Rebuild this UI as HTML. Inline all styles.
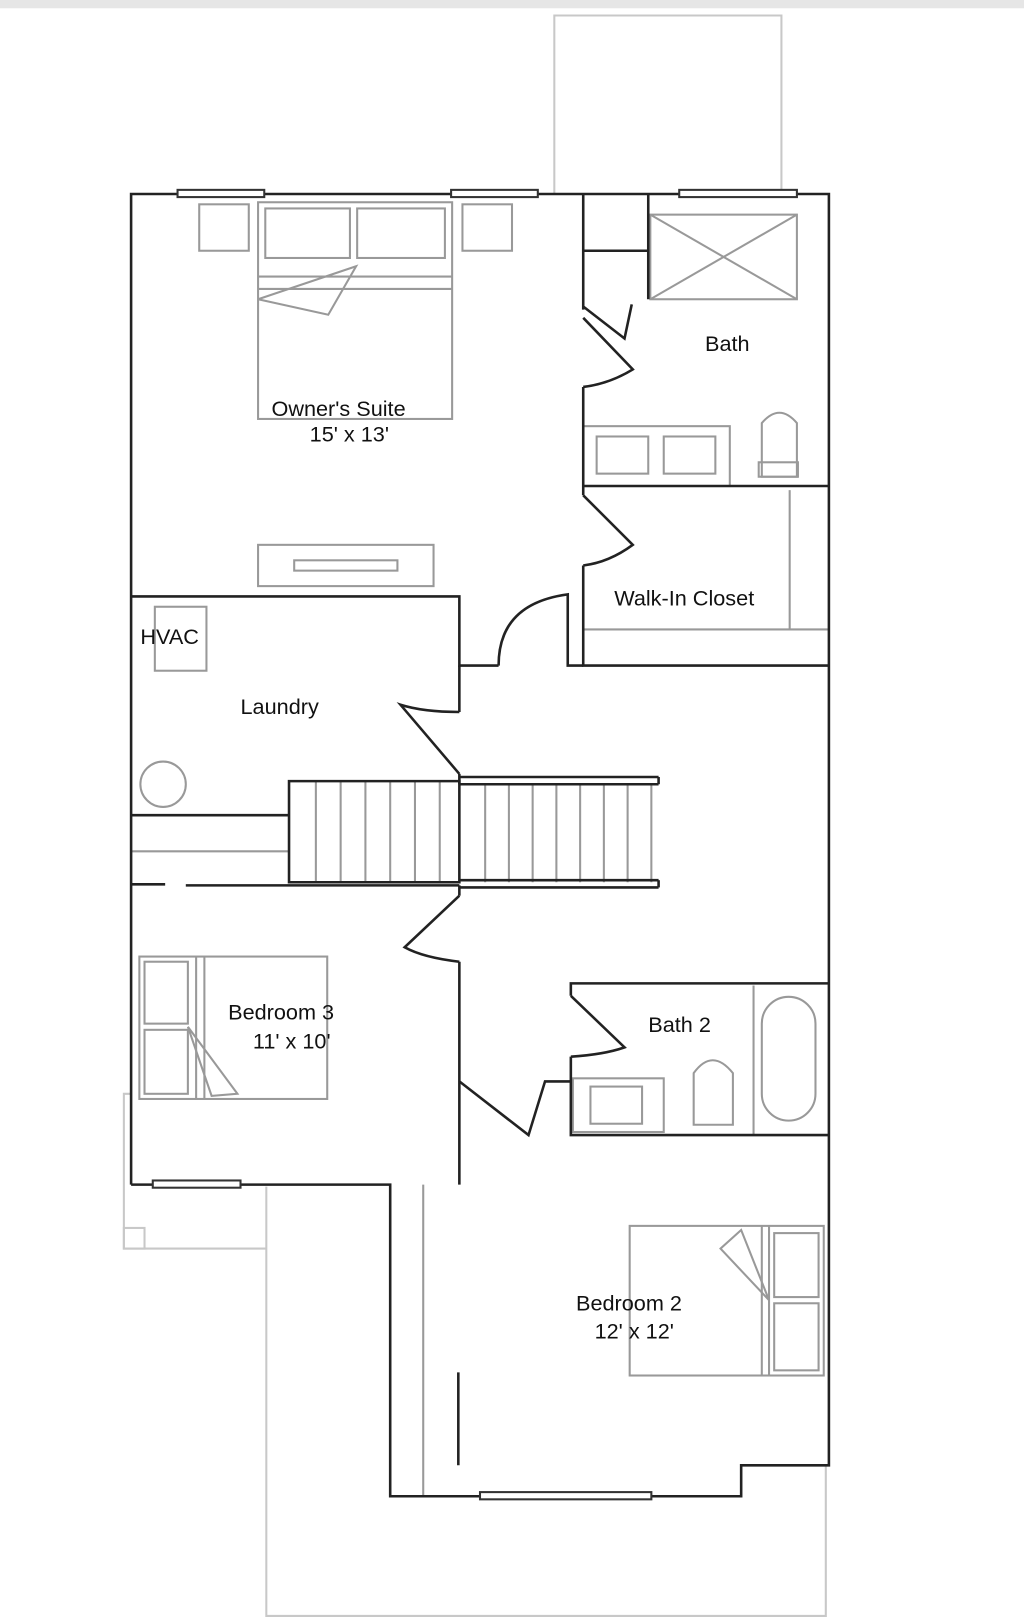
<!DOCTYPE html>
<html><head><meta charset="utf-8"><style>
html,body{margin:0;padding:0;background:#fff;width:1024px;height:1618px;overflow:hidden}
svg{display:block}
text{font-family:"Liberation Sans",sans-serif;font-size:21px;fill:#111}
</style></head><body>
<svg width="1024" height="1618" viewBox="0 0 992 1568" preserveAspectRatio="none" xmlns="http://www.w3.org/2000/svg">
<rect x="0" y="0" width="992" height="8" fill="#e6e6e6"/>
<g fill="none" stroke="#c8c8c8" stroke-width="2">
<polyline points="537,188 537,15 757,15 757,188"/>
<polyline points="258,1150 258,1566 800,1566 800,1420"/>
<polyline points="127,1060 120,1060 120,1210 258,1210"/>
<rect x="120" y="1190" width="20" height="20"/>
</g>
<g fill="none" stroke="#999" stroke-width="2">
<rect x="193" y="198" width="48" height="45"/><rect x="448" y="198" width="48" height="45"/>
<rect x="250" y="196" width="188" height="210"/>
<rect x="257" y="202" width="82" height="48"/><rect x="346" y="202" width="85" height="48"/>
<line x1="250" y1="268" x2="438" y2="268"/><line x1="250" y1="280" x2="438" y2="280"/>
<polyline points="250,290 345,258 318,305 250,290"/>
<rect x="250" y="528" width="170" height="40"/><rect x="285" y="543" width="100" height="10"/>
<rect x="630" y="208" width="142" height="82"/><line x1="630" y1="208" x2="772" y2="290"/><line x1="772" y1="208" x2="630" y2="290"/>
<rect x="565" y="413" width="142" height="58"/><rect x="578" y="423" width="50" height="36"/><rect x="643" y="423" width="50" height="36"/>
<path d="M738,462 L738,410 Q755,390 772,410 L772,462 Z"/><rect x="735" y="448" width="38" height="14"/>
<line x1="765" y1="475" x2="765" y2="610"/><line x1="565" y1="610" x2="803" y2="610"/>
<rect x="150" y="588" width="50" height="62"/><circle cx="158" cy="760" r="22"/>
<line x1="127" y1="825" x2="280" y2="825"/>
<rect x="135" y="927" width="182" height="138"/><rect x="140" y="932" width="42" height="60"/><rect x="140" y="998" width="42" height="62"/>
<line x1="190" y1="927" x2="190" y2="1065"/><line x1="198" y1="927" x2="198" y2="1065"/>
<polyline points="182,995 230,1060 205,1062 182,995"/>
<rect x="555" y="1045" width="88" height="52"/><rect x="572" y="1053" width="50" height="36"/>
<path d="M672,1090 L672,1040 Q690,1015 710,1040 L710,1090 Z"/><line x1="730" y1="955" x2="730" y2="1100"/>
<rect x="738" y="966" width="52" height="120" rx="26"/>
<rect x="610" y="1188" width="188" height="145"/><rect x="750" y="1195" width="43" height="62"/><rect x="750" y="1263" width="43" height="65"/>
<line x1="738" y1="1188" x2="738" y2="1333"/><line x1="745" y1="1188" x2="745" y2="1333"/>
<polyline points="745,1260 718,1192 698,1210 745,1260"/>
<line x1="410" y1="1148" x2="410" y2="1450"/>
</g>
<g stroke="#999" stroke-width="2">
<line x1="306" y1="757" x2="306" y2="855"/><line x1="330" y1="757" x2="330" y2="855"/><line x1="354" y1="757" x2="354" y2="855"/><line x1="378" y1="757" x2="378" y2="855"/><line x1="402" y1="757" x2="402" y2="855"/><line x1="426" y1="757" x2="426" y2="855"/>
<line x1="470" y1="760" x2="470" y2="855"/><line x1="493" y1="760" x2="493" y2="855"/><line x1="516" y1="760" x2="516" y2="855"/><line x1="539" y1="760" x2="539" y2="855"/><line x1="562" y1="760" x2="562" y2="855"/><line x1="585" y1="760" x2="585" y2="855"/><line x1="608" y1="760" x2="608" y2="855"/><line x1="631" y1="760" x2="631" y2="855"/>
</g>
<g fill="none" stroke="#222" stroke-width="2.5">
<polyline points="127,1148 127,188 803,188 803,1420 718,1420 718,1450 378,1450 378,1148 127,1148"/>
<polyline points="565,188 565,300"/><polyline points="565,375 565,480"/><polyline points="565,548 565,645 803,645"/>
<line x1="565" y1="471" x2="803" y2="471"/>
<line x1="565" y1="243" x2="628" y2="243"/><line x1="628" y1="188" x2="628" y2="290"/>
<polyline points="565,297 605,328 612,295"/>
<path d="M565,308 L613,358 Q590,372 565,375"/>
<path d="M565,480 L613,528 Q590,545 565,548"/>
<polyline points="127,578 445,578 445,645 483,645"/>
<path d="M483,645 Q483,585 550,576 L550,645 L565,645"/>
<polyline points="445,645 445,690"/>
<path d="M445,690 Q410,690 388,683 L445,750"/>
<line x1="445" y1="750" x2="445" y2="760"/>
<polyline points="127,790 280,790 280,855 445,855 445,757 280,757 280,790"/>
<line x1="445" y1="753" x2="638" y2="753"/><line x1="445" y1="760" x2="638" y2="760"/>
<line x1="445" y1="853" x2="638" y2="853"/><line x1="445" y1="860" x2="638" y2="860"/>
<line x1="638" y1="753" x2="638" y2="760"/><line x1="638" y1="853" x2="638" y2="860"/>
<line x1="127" y1="857" x2="160" y2="857"/><line x1="180" y1="858" x2="445" y2="858"/>
<polyline points="445,858 445,868"/>
<path d="M445,868 L392,918 Q410,928 445,932"/>
<line x1="445" y1="932" x2="445" y2="1148"/>
<polyline points="445,1048 512,1100 528,1048 553,1048"/>
<polyline points="803,953 553,953 553,965"/>
<path d="M553,965 L605,1015 Q585,1022 553,1024"/>
<polyline points="553,1024 553,1100 803,1100"/>
<line x1="444" y1="1330" x2="444" y2="1420"/>
</g>
<g fill="#fff" stroke="#333" stroke-width="2">
<rect x="172" y="184" width="84" height="7"/><rect x="437" y="184" width="84" height="7"/><rect x="658" y="184" width="114" height="7"/>
<rect x="148" y="1144" width="85" height="7"/><rect x="465" y="1446" width="166" height="7"/>
</g>
<text x="263" y="403">Owner's Suite</text><text x="300" y="428">15' x 13'</text>
<text x="683" y="340">Bath</text>
<text x="595" y="587">Walk-In Closet</text>
<text x="136" y="624">HVAC</text>
<text x="233" y="692">Laundry</text>
<text x="221" y="988">Bedroom 3</text><text x="245" y="1016">11' x 10'</text>
<text x="628" y="1000">Bath 2</text>
<text x="558" y="1270">Bedroom 2</text><text x="576" y="1297">12' x 12'</text>
</svg>
</body></html>
